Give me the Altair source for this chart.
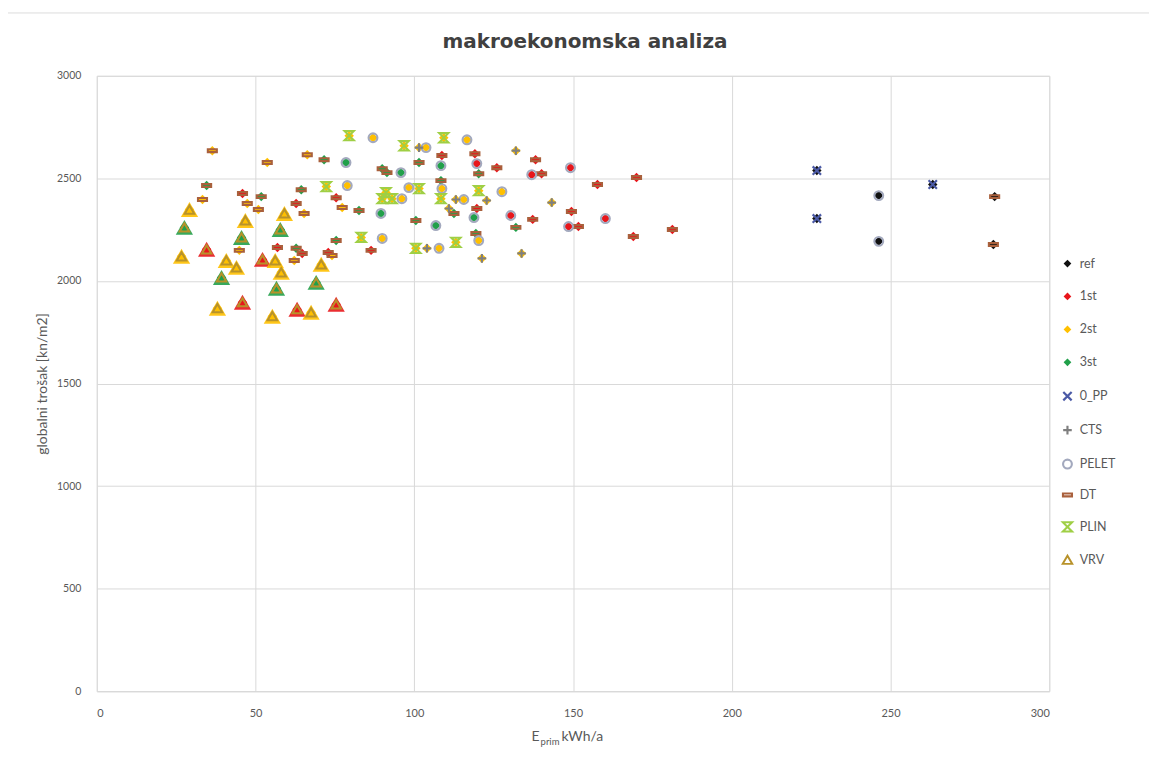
import altair as alt
import pandas as pd

# ---------------- data ----------------
LEVELS = ["ref", "1st", "2st", "3st"]
LEVEL_COLORS = ["#111111", "#e8161b", "#ffc000", "#21a04a"]
SYSTEMS = ["0_PP", "CTS", "PELET", "DT", "PLIN", "VRV"]
SYSTEM_COLORS = ["#4b5aa6", "#7f7f7f", "#a3a9be", "#a9603c", "#9fcf45", "#b8922a"]

# reference building
ref_x = [226.8, 226.8, 263.3, 246.3, 246.3, 282.8, 282.4]
ref_y = [2538, 2304, 2470, 2416, 2193, 2411, 2178]
ref_sys = ["0_PP", "0_PP", "0_PP", "PELET", "PELET", "DT", "DT"]

# VRV variants
vrv_x = [29.2, 27.6, 26.7, 34.6, 46.8, 45.6, 40.8, 44.0, 39.3, 38.0, 45.9, 52.2,
         56.2, 58.1, 56.6, 55.3, 59.1, 57.8, 63.1, 67.5, 70.7, 69.1, 75.4]
vrv_y = [2348, 2261, 2120, 2154, 2295, 2212, 2100, 2066, 2017, 1867, 1896, 2105,
         2100, 2042, 1964, 1828, 2329, 2251, 1862, 1847, 2081, 1993, 1886]
vrv_lvl = ["2st", "3st", "2st", "1st", "2st", "3st", "2st", "2st", "3st", "2st", "1st", "1st",
           "2st", "2st", "3st", "2st", "2st", "3st", "1st", "2st", "2st", "3st", "1st"]

# DT variants
dt_x = [34.6, 33.3, 36.4, 45.9, 47.4, 51.8, 50.9, 44.9, 53.7, 56.9, 62.8, 64.7, 62.2,
        64.4, 62.8, 65.3, 66.3, 74.1, 72.9, 75.4, 75.4, 77.3, 71.6, 86.4, 82.6, 89.9,
        91.4, 101.5, 108.4, 112.5, 100.5, 120.3, 132.0, 119.4,
        108.7, 119.1, 126.0, 138.2, 140.1, 119.7, 137.3, 149.5, 151.7, 170.0, 157.7, 169.0, 181.3]
dt_y = [2465, 2397, 2635, 2426, 2377, 2411, 2348, 2149, 2577, 2163, 2159, 2134, 2100,
        2445, 2377, 2329, 2615, 2124, 2139, 2197, 2406, 2358, 2591, 2149, 2343, 2547,
        2528, 2577, 2489, 2329, 2295, 2523, 2261, 2231,
        2611, 2620, 2552, 2591, 2523, 2353, 2300, 2338, 2265, 2504, 2470, 2217, 2251]
dt_lvl = ["3st", "2st", "2st", "1st", "2st", "3st", "2st", "2st", "2st", "1st", "3st", "1st", "2st",
          "3st", "1st", "2st", "2st", "2st", "1st", "3st", "1st", "2st", "3st", "1st", "3st", "3st",
          "3st", "3st", "3st", "3st", "3st", "3st", "3st", "3st",
          "1st", "1st", "1st", "1st", "1st", "1st", "1st", "1st", "1st", "1st", "1st", "1st", "1st"]

# PELET variants
pel_x = [78.9, 78.5, 87.0, 89.9, 89.5, 103.7, 116.6, 95.8, 108.4, 98.3, 96.1, 108.7,
         115.6, 106.8, 118.8, 107.8, 120.3, 119.7, 137.0, 149.2, 127.6, 130.4, 148.6, 160.2]
pel_y = [2465, 2577, 2698, 2207, 2329, 2650, 2688, 2528, 2562, 2455, 2401, 2450,
         2397, 2270, 2309, 2159, 2197, 2572, 2518, 2552, 2435, 2319, 2265, 2304]
pel_lvl = ["2st", "3st", "2st", "2st", "3st", "2st", "2st", "3st", "3st", "2st", "2st", "2st",
           "2st", "3st", "3st", "2st", "2st", "1st", "1st", "1st", "2st", "1st", "1st", "1st"]

# PLIN variants
plin_x = [79.5, 72.3, 83.3, 96.8, 109.3, 101.5, 91.1, 89.9, 108.4, 113.1, 100.5, 120.3, 93.0]
plin_y = [2708, 2460, 2212, 2659, 2698, 2450, 2431, 2401, 2401, 2188, 2159, 2440, 2401]

# CTS variants
cts_x = [101.5, 113.1, 110.9, 104.0, 132.0, 122.8, 143.3, 121.3, 133.8]
cts_y = [2650, 2397, 2353, 2159, 2635, 2392, 2382, 2110, 2134]

X_TICKS = [0, 50, 100, 150, 200, 250, 300]
Y_TICKS = [0, 500, 1000, 1500, 2000, 2500, 3000]

# ---------------- table ----------------
rows = []
rows += [dict(x=a, y=b, level="ref", system=s) for a, b, s in zip(ref_x, ref_y, ref_sys)]
rows += [dict(x=a, y=b, level=l, system="VRV") for a, b, l in zip(vrv_x, vrv_y, vrv_lvl)]
rows += [dict(x=a, y=b, level=l, system="DT") for a, b, l in zip(dt_x, dt_y, dt_lvl)]
rows += [dict(x=a, y=b, level=l, system="PELET") for a, b, l in zip(pel_x, pel_y, pel_lvl)]
rows += [dict(x=a, y=b, level="2st", system="PLIN") for a, b in zip(plin_x, plin_y)]
rows += [dict(x=a, y=b, level="2st", system="CTS") for a, b in zip(cts_x, cts_y)]
df = pd.DataFrame(rows)

FONT = "Lato"
GREY = "#595959"

xenc = alt.X("x:Q", scale=alt.Scale(domain=[0, 300], nice=False),
             axis=alt.Axis(values=X_TICKS, title=None, grid=True, gridColor="#d9d9d9",
                           domain=True, domainColor="#d9d9d9", ticks=False, format="d",
                           labelFont=FONT, labelFontSize=11, labelColor=GREY, labelPadding=16))
yenc = alt.Y("y:Q", scale=alt.Scale(domain=[0, 3000], nice=False),
             axis=alt.Axis(values=Y_TICKS, title="globalni trošak [kn/m2]", grid=True,
                           gridColor="#d9d9d9", domain=False, ticks=False, format="d",
                           labelFont=FONT, labelFontSize=10.5, labelColor=GREY, labelPadding=16,
                           titleFont=FONT, titleFontSize=14, titleColor=GREY,
                           titleFontWeight="normal", titlePadding=7))

level_scale = alt.Scale(domain=LEVELS, range=LEVEL_COLORS)

base = alt.Chart(df)

frame = alt.Chart(alt.Data(values=[{}])).mark_rect(
    fillOpacity=0, stroke="#dcdcdc", strokeWidth=1
).encode(x=alt.value(-92), x2=alt.value(1080), y=alt.value(-63), y2=alt.value(700))

vrv_fill = base.transform_filter(alt.datum.system == "VRV").mark_point(
    shape="triangle-up", filled=True, size=300, opacity=0.9
).encode(x=xenc, y=yenc, color=alt.Color("level:N", scale=level_scale, legend=None))

legend_common = dict(title=None, orient="none", labelFont=FONT, labelFontSize=12.5,
                     labelColor=GREY, padding=0, symbolSize=60, labelOffset=6)

level_layer = base.mark_point(shape="diamond", filled=True, size=90, opacity=1).encode(
    x=xenc, y=yenc,
    color=alt.Color("level:N", scale=level_scale,
                    legend=alt.Legend(legendX=967, legendY=182, symbolType="diamond",
                                      rowPadding=20, **legend_common)),
)

sys_legend = alt.Legend(legendX=967, legendY=315, symbolStrokeWidth=1.6, rowPadding=16,
                        **legend_common)
SYSTEM_SHAPES = ["M-1,-1L1,1M-1,1L1,-1", "M-1,0L1,0M0,-1L0,1", "circle",
                 "M-1,-0.32L1,-0.32L1,0.32L-1,0.32Z", "M-1,-1L1,-1L-1,1L1,1Z", "triangle-up"]
system_layer = base.mark_point(filled=False, opacity=1).encode(
    x=xenc, y=yenc,
    color=alt.Color("system:N", scale=alt.Scale(domain=SYSTEMS, range=SYSTEM_COLORS),
                    legend=sys_legend),
    shape=alt.Shape("system:N", scale=alt.Scale(domain=SYSTEMS, range=SYSTEM_SHAPES),
                    legend=sys_legend),
    size=alt.Size("system:N", scale=alt.Scale(domain=SYSTEMS, range=[70, 90, 330, 90, 55, 300]),
                  legend=None),
    strokeWidth=alt.StrokeWidth("system:N",
                                scale=alt.Scale(domain=SYSTEMS, range=[2.2, 2, 1.8, 2.4, 2, 1.5]),
                                legend=None),
)

one = alt.Data(values=[{}])
t_E = alt.Chart(one).mark_text(text="E", align="left", baseline="alphabetic", font=FONT,
                               fontSize=14, color=GREY).encode(x=alt.value(436), y=alt.value(667))
t_prim = alt.Chart(one).mark_text(text="prim", align="left", baseline="alphabetic", font=FONT,
                                  fontSize=9.5, color=GREY).encode(x=alt.value(445), y=alt.value(671))
t_unit = alt.Chart(one).mark_text(text="kWh/a", align="left", baseline="alphabetic", font=FONT,
                                  fontSize=14, color=GREY).encode(x=alt.value(466), y=alt.value(667))

chart = alt.layer(frame, vrv_fill, level_layer, system_layer, t_E, t_prim, t_unit).resolve_scale(
    color="independent", shape="independent", size="independent", strokeWidth="independent"
).properties(
    width=955, height=617,
    title=alt.TitleParams("makroekonomska analiza", font="DejaVu Sans", fontSize=20,
                          fontWeight="bold", color="#404040", anchor="middle", offset=-40, dx=12),
    autosize=alt.AutoSizeParams(type="none"),
    padding={"left": 89, "top": 67, "right": 100, "bottom": 60},
).configure_view(stroke=None).configure(background="white")

chart.save("out.html", embed_options={"renderer": "svg", "actions": False})
